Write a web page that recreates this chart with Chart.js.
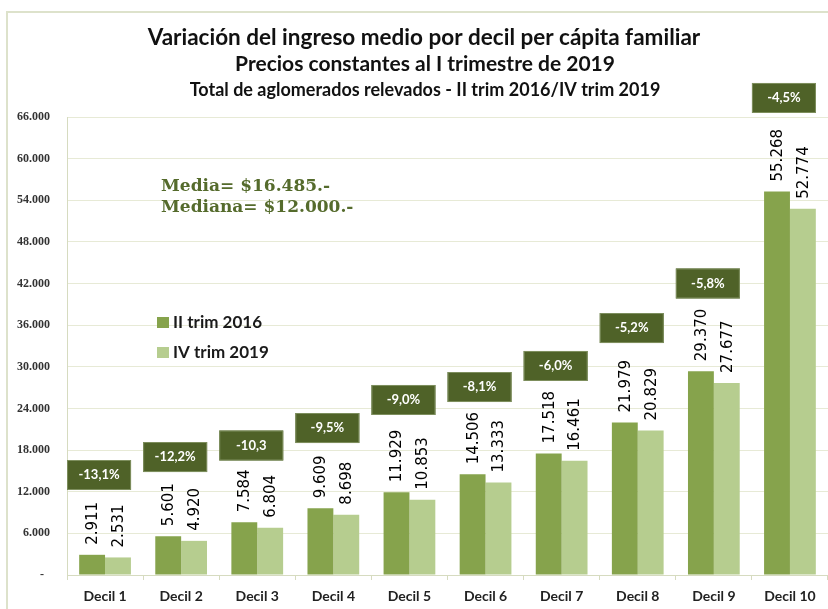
<!DOCTYPE html>
<html>
<head>
<meta charset="utf-8">
<script src="https://cdn.jsdelivr.net/npm/chart.js@4.4.0/dist/chart.umd.min.js"></script>
<style>
  body { margin: 0; background: #fff; }
  canvas { display: block; }
</style>
</head>
<body>
<canvas id="grafico" width="828" height="609"></canvas>
<script>
// datos
var deciles = ["Decil 1","Decil 2","Decil 3","Decil 4","Decil 5","Decil 6","Decil 7","Decil 8","Decil 9","Decil 10"];
var trim2016 = [2911, 5601, 7584, 9609, 11929, 14506, 17518, 21979, 29370, 55268];
var trim2019 = [2531, 4920, 6804, 8698, 10853, 13333, 16461, 20829, 27677, 52774];
var variacion = ["-13,1%","-12,2%","-10,3","-9,5%","-9,0%","-8,1%","-6,0%","-5,2%","-5,8%","-4,5%"];
// altura de cada recuadro de variación, en unidades del eje
var nivelCaja = [14410, 17000, 18660, 21180, 25220, 27090, 30120, 35590, 42010, 68740];
var titulos = ["Variación del ingreso medio por decil per cápita familiar",
               "Precios constantes al I trimestre de 2019",
               "Total de aglomerados relevados - II trim 2016/IV trim 2019"];
var notas = ["Media= $16.485.-", "Mediana= $12.000.-"];

var verdeOscuro = "#86A34C";
var verdeClaro = "#B6CD8F";
var verdeCaja = "#4F6228";

function miles(v) {
  return String(v).replace(/\B(?=(\d{3})+(?!\d))/g, ".");
}

var marco = {
  id: "marco",
  beforeDraw: function(chart) {
    var ctx = chart.ctx;
    ctx.save();
    ctx.fillStyle = "#fff";
    ctx.fillRect(0, 0, chart.width, chart.height);
    ctx.strokeStyle = "#DDE2CB";
    ctx.lineWidth = 2;
    ctx.strokeRect(7, 12, 840, 620);
    ctx.fillStyle = "#111";
    ctx.textAlign = "center";
    ctx.textBaseline = "middle";
    ctx.font = "bold 22.5px Lato";
    ctx.fillText(titulos[0], 424, 38);
    ctx.font = "bold 21px Lato";
    ctx.fillText(titulos[1], 425, 64);
    ctx.font = "bold 18px Lato";
    ctx.fillText(titulos[2], 425, 90);
    ctx.restore();
  }
};

var etiquetas = {
  id: "etiquetas",
  afterDatasetsDraw: function(chart) {
    var ctx = chart.ctx;
    ctx.save();
    ctx.font = "15px 'DejaVu Sans'";
    ctx.fillStyle = "#000";
    ctx.textAlign = "left";
    ctx.textBaseline = "middle";
    chart.data.datasets.forEach(function(ds, d) {
      chart.getDatasetMeta(d).data.forEach(function(bar, i) {
        ctx.save();
        ctx.translate(bar.x, bar.y - 10);
        ctx.rotate(-Math.PI / 2);
        ctx.fillText(miles(ds.data[i]), 0, 1);
        ctx.restore();
      });
    });

    // recuadros con la variación
    var xs = chart.scales.x, ys = chart.scales.y;
    ctx.font = "bold 13px Lato";
    ctx.textAlign = "center";
    variacion.forEach(function(t, i) {
      var cx = xs.getPixelForValue(i) - 6;
      var cy = ys.getPixelForValue(nivelCaja[i]);
      ctx.fillStyle = verdeCaja;
      ctx.fillRect(cx - 32, cy - 15, 64, 30);
      ctx.strokeStyle = "#7E8F5E";
      ctx.lineWidth = 1;
      ctx.strokeRect(cx - 31.5, cy - 14.5, 63, 29);
      ctx.fillStyle = "#fff";
      ctx.fillText(t, cx, cy);
    });

    // media y mediana
    ctx.textAlign = "left";
    ctx.fillStyle = "#556B2C";
    ctx.font = "bold 17px 'DejaVu Serif'";
    ctx.fillText(notas[0], 161, 187);
    ctx.fillText(notas[1], 161, 208);

    // leyenda
    ctx.font = "bold 17px Lato";
    chart.data.datasets.forEach(function(ds, d) {
      var y = 323 + d * 30;
      ctx.fillStyle = ds.backgroundColor;
      ctx.fillRect(157, y - 6, 12, 11);
      ctx.fillStyle = "#1a1a1a";
      ctx.fillText(ds.label, 173, y);
    });
    ctx.restore();
  }
};

new Chart(document.getElementById("grafico"), {
  type: "bar",
  data: {
    labels: deciles,
    datasets: [
      { label: "II trim 2016", data: trim2016, backgroundColor: verdeOscuro },
      { label: "IV trim 2019", data: trim2019, backgroundColor: verdeClaro }
    ]
  },
  options: {
    responsive: false,
    animation: false,
    layout: { padding: { top: 117, left: 0, right: 0, bottom: 0 } },
    datasets: { bar: { categoryPercentage: 0.68, barPercentage: 1.0 } },
    plugins: {
      legend: { display: false },
      tooltip: { enabled: false },
      title: { display: false }
    },
    scales: {
      x: {
        grid: { drawOnChartArea: false, drawTicks: true, tickLength: 5, color: "#D6DBC0" },
        border: { color: "#D6DBC0" },
        ticks: { color: "#222", font: { family: "Lato", weight: "bold", size: 14 }, padding: 8 },
        afterFit: function(s) { s.height = 34; }
      },
      y: {
        min: 0, max: 66000,
        grid: { color: "#E7EAD6", drawTicks: false },
        border: { color: "#D6DBC0" },
        ticks: {
          stepSize: 6000,
          padding: 17,
          color: "#333",
          font: { family: "Liberation Serif", weight: "bold", size: 12 },
          callback: function(v) { return v === 0 ? "-  " : miles(v); }
        },
        afterFit: function(s) { s.width = 67; }
      }
    }
  },
  plugins: [marco, etiquetas]
});
</script>
</body>
</html>
